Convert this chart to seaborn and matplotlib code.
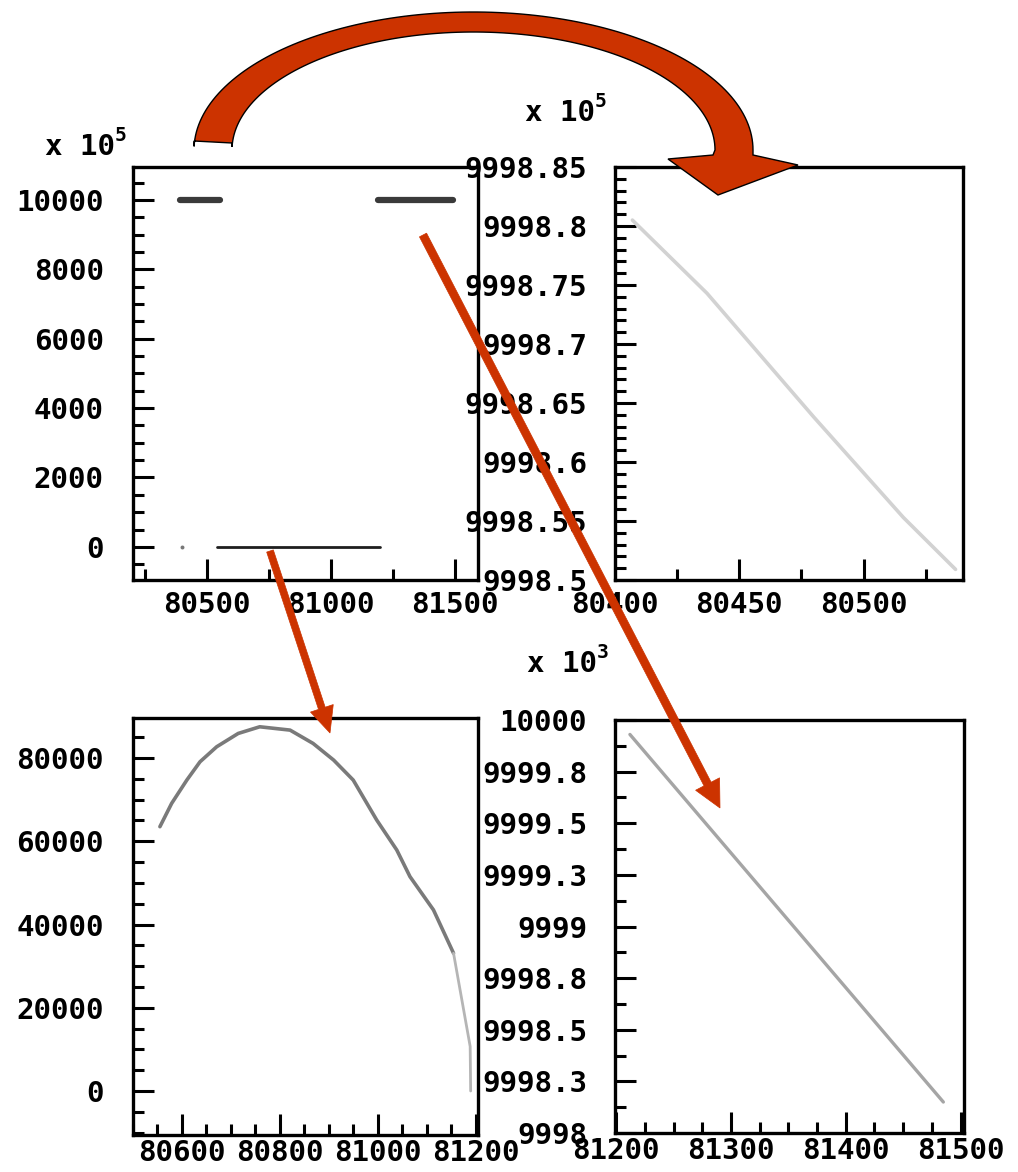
import numpy as np
import pandas as pd
import matplotlib
matplotlib.use("Agg")
import matplotlib.pyplot as plt
import seaborn as sns
from matplotlib.patches import Polygon
from matplotlib.ticker import MultipleLocator, FixedLocator, FixedFormatter

# ---------------- data ----------------
# top-left overview (values shown in units of 1e5)
tl_hi_left_x = [80391, 80552]
tl_hi_left_y = [10000, 10000]
tl_hi_right_x = [81190, 81492]
tl_hi_right_y = [10000, 10000]
tl_low_x = [80540, 81198]
tl_low_y = [0, 0]
tl_dot_x = [80400]
tl_dot_y = [0]
tl_yticks = [0, 2000, 4000, 6000, 8000, 10000]
tl_ylabels = ["0", "2000", "4000", "6000", "8000", "10000"]
tl_xticks = [80500, 81000, 81500]
tl_xlabels = ["80500", "81000", "81500"]

# top-right zoom (units of 1e5)
tr_x = [80407, 80437, 80480, 80516, 80537]
tr_y = [9998.805, 9998.743, 9998.638, 9998.553, 9998.509]
tr_yticks = [9998.5, 9998.55, 9998.6, 9998.65, 9998.7, 9998.75, 9998.8, 9998.85]
tr_ylabels = ["9998.5", "9998.55", "9998.6", "9998.65", "9998.7", "9998.75", "9998.8", "9998.85"]
tr_xticks = [80400, 80450, 80500]
tr_xlabels = ["80400", "80450", "80500"]

# bottom-left zoom (raw values)
bl_x = [80555, 80579, 80610, 80637, 80671, 80715, 80759, 80821, 80868, 80910,
        80950, 80998, 81039, 81066, 81114, 81155]
bl_y = [63500, 69100, 74700, 79100, 82700, 85900, 87500, 86700, 83500, 79500,
        74700, 65100, 57900, 51500, 43500, 33100]
bl_tail_x = [81155, 81172, 81189, 81190]
bl_tail_y = [33100, 21900, 10700, 0]
bl_yticks = [0, 20000, 40000, 60000, 80000]
bl_ylabels = ["0", "20000", "40000", "60000", "80000"]
bl_xticks = [80600, 80800, 81000, 81200]
bl_xlabels = ["80600", "80800", "81000", "81200"]

# bottom-right zoom
br_x = [81212, 81485]
br_y = [9999.93, 9998.15]
br_yticks = [9998, 9998.25, 9998.5, 9998.75, 9999, 9999.25, 9999.5, 9999.75, 10000]
br_ylabels = ["9998", "9998.3", "9998.5", "9998.8", "9999", "9999.3", "9999.5", "9999.8", "10000"]
br_xticks = [81200, 81300, 81400, 81500]
br_xlabels = ["81200", "81300", "81400", "81500"]

# ---------------- style ----------------
sns.set_style("white")
plt.rcParams['font.family'] = ['DejaVu Sans Mono', 'DejaVu Sans']
plt.rcParams['font.weight'] = 'bold'
plt.rcParams['text.color'] = 'black'
plt.rcParams['xtick.color'] = 'black'
plt.rcParams['ytick.color'] = 'black'
plt.rcParams['xtick.labelcolor'] = 'black'
plt.rcParams['ytick.labelcolor'] = 'black'

W, H = 1018, 1172
fig = plt.figure(figsize=(W / 100, H / 100), dpi=100)
fig.patch.set_facecolor("white")

def fx(px):
    return px / W

def fy(py):
    return 1 - py / H

def make_ax(l, t, r, b):
    return fig.add_axes([fx(l), fy(b), (r - l) / W, (b - t) / H])

FS = 21
RED = "#cc3300"

def style(ax, xlim, ylim, xt, xl, yt, yl, xminor, yminor, ypad=21, xpad=9):
    ax.set_xlim(*xlim)
    ax.set_ylim(*ylim)
    ax.xaxis.set_major_locator(FixedLocator(xt))
    ax.xaxis.set_major_formatter(FixedFormatter(xl))
    ax.yaxis.set_major_locator(FixedLocator(yt))
    ax.yaxis.set_major_formatter(FixedFormatter(yl))
    ax.xaxis.set_minor_locator(MultipleLocator(xminor))
    ax.yaxis.set_minor_locator(MultipleLocator(yminor))
    ax.tick_params(which='both', direction='in', left=True, bottom=True,
                   top=False, right=False, color='black', width=2.2)
    ax.tick_params(which='major', length=15)
    ax.tick_params(which='minor', length=8)
    ax.tick_params(axis='x', which='major', pad=xpad, labelsize=FS, labelcolor='black')
    ax.tick_params(axis='y', which='major', pad=ypad, labelsize=FS, labelcolor='black')
    for lab in ax.get_xticklabels() + ax.get_yticklabels():
        lab.set_fontweight('bold')
    for s in ax.spines.values():
        s.set_visible(True)
        s.set_color('black')
        s.set_linewidth(2.4)
    ax.set_xlabel("")
    ax.set_ylabel("")
    ax.set_facecolor("white")

# ---------------- top-left ----------------
ax1 = make_ax(133, 167, 478, 580)
sns.lineplot(x=tl_hi_left_x, y=tl_hi_left_y, ax=ax1, color="#3a3a3a", linewidth=4.5,
             estimator=None, sort=False)
sns.lineplot(x=tl_hi_right_x, y=tl_hi_right_y, ax=ax1, color="#3a3a3a", linewidth=4.5,
             estimator=None, sort=False)
sns.lineplot(x=tl_low_x, y=tl_low_y, ax=ax1, color="#1e1e1e", linewidth=2.0,
             estimator=None, sort=False)
sns.scatterplot(x=tl_dot_x, y=tl_dot_y, ax=ax1, color="#777777", s=8, linewidth=0)
style(ax1, (80200, 81595), (-955, 10950), tl_xticks, tl_xlabels, tl_yticks, tl_ylabels,
      250, 500, ypad=21, xpad=8)

# ---------------- top-right ----------------
ax2 = make_ax(615, 167, 963, 580)
sns.lineplot(x=tr_x, y=tr_y, ax=ax2, color="#d2d2d2", linewidth=2.6,
             estimator=None, sort=False)
style(ax2, (80400, 80540), (9998.5, 9998.85), tr_xticks, tr_xlabels, tr_yticks, tr_ylabels,
      25, 0.01, ypad=20, xpad=8)

# ---------------- bottom-left ----------------
ax3 = make_ax(133, 718, 478, 1135)
sns.lineplot(x=bl_x, y=bl_y, ax=ax3, color="#7a7a7a", linewidth=2.6,
             estimator=None, sort=False)
sns.lineplot(x=bl_tail_x, y=bl_tail_y, ax=ax3, color="#b5b5b5", linewidth=2.0,
             estimator=None, sort=False)
style(ax3, (80500, 81205), (-10570, 89610), bl_xticks, bl_xlabels, bl_yticks, bl_ylabels,
      50, 5000, ypad=21, xpad=3)

# ---------------- bottom-right ----------------
ax4 = make_ax(615, 720, 964, 1133)
sns.lineplot(x=br_x, y=br_y, ax=ax4, color="#a5a5a5", linewidth=2.4,
             estimator=None, sort=False)
style(ax4, (81199, 81503), (9998, 10000), br_xticks, br_xlabels, br_yticks, br_ylabels,
      25, 0.125, ypad=20, xpad=3)

# ---------------- multiplier labels ----------------
def mult(px, py, exp):
    fig.text(fx(px), fy(py), "x 10", fontsize=FS, fontweight='bold', ha='left', va='baseline')
    fig.text(fx(px + 70), fy(py - 14), exp, fontsize=14, fontweight='bold', ha='left', va='baseline')

mult(45, 155, "5")
mult(525, 121, "5")
mult(527, 672, "3")

# ---------------- red arrows ----------------
def to_fig(pts):
    return [(fx(x), fy(y)) for x, y in pts]

def straight_arrow(x0, y0, x1, y1, sw, hw, hl):
    d = np.array([x1 - x0, y1 - y0], float)
    d /= np.hypot(*d)
    n = np.array([-d[1], d[0]])
    tail = np.array([x0, y0], float)
    tip = np.array([x1, y1], float)
    neck = tip - d * hl
    pts = [tail + n * sw / 2, neck + n * sw / 2, neck + n * hw / 2, tip,
           neck - n * hw / 2, neck - n * sw / 2, tail - n * sw / 2]
    fig.add_artist(Polygon(to_fig(pts), closed=True, transform=fig.transFigure,
                           facecolor=RED, edgecolor=RED, linewidth=0.5))

straight_arrow(423, 235, 720, 808, 8, 27, 27)
straight_arrow(270, 551, 330, 733, 7, 24, 26)

# curved block arrow
cx, cy = 473.5, 150
rxo, ryo = 279.5, 138
rxi, ryi = 241.5, 118
th = np.linspace(np.pi, 0, 120)
outer = [(194, 141)] + [(cx + rxo * np.cos(t), cy - ryo * np.sin(t)) for t in th[1:]]
inner = [(cx + rxi * np.cos(t), cy - ryi * np.sin(t)) for t in th[::-1][:-1]] + [(232, 143)]
head = [(753, 155), (798, 165), (718, 195), (668, 159), (713, 155)]
pts = outer + head + inner
fig.add_artist(Polygon(to_fig(pts), closed=True, transform=fig.transFigure,
                       facecolor=RED, edgecolor="black", linewidth=1.0, joinstyle='miter'))

fig.savefig("out.png", dpi=100)
